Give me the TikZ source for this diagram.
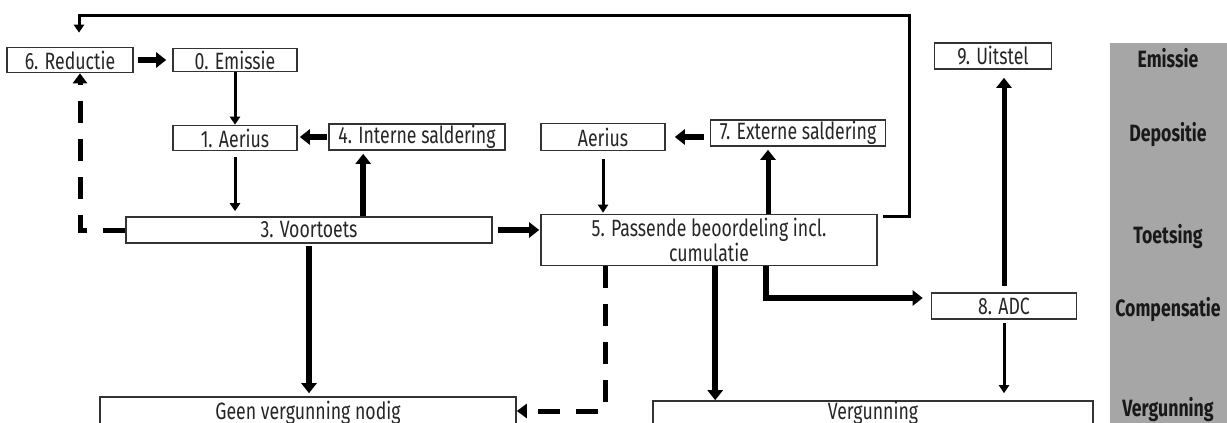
\documentclass[tikz,border=0pt]{standalone}
\usepackage{fontspec}
\setmainfont[FakeStretch=0.75]{Fira Sans}
\usepackage{xcolor}
\usepackage{tikz}
\usetikzlibrary{arrows.meta, positioning}

\begin{document}
\begin{tikzpicture}[x=0.5pt, y=-0.5pt, >={Triangle[length=4pt,width=5pt]},
    box/.style={draw=black!80, line width=0.8pt, rectangle, fill=white, inner sep=0pt, text=black!85, font=\fontsize{11.8}{12.5}\selectfont},
    flow/.style={->, line width=1.5pt},
    bigflow/.style={-{Triangle[length=5pt,width=7.5pt]}, line width=3pt},
    dashflow/.style={-{Triangle[length=5pt,width=7pt]}, line width=2.5pt, dash pattern=on 11pt off 8pt},
    lane/.style={font=\bfseries\fontsize{11.8}{12.5}\selectfont, text=black!90}]
    \useasboundingbox (0,0) rectangle (1227,423);
    \fill[black!35] (1110,43) rectangle (1227,440);

    \node [box, minimum width=63pt, minimum height=12.5pt] (red) at (70,60) {6. Reductie};
    \node [box, minimum width=62pt, minimum height=11.5pt] (emi) at (235,60) {0. Emissie};
    \node [box, minimum width=62pt, minimum height=12.5pt] (aerA) at (235,138) {1. Aerius};
    \node [box, minimum width=88pt, minimum height=13pt] (intern) at (417,137) {4. Interne saldering};
    \node [box, minimum width=183pt, minimum height=13pt] (voor) at (309,230) {3. Voortoets};
    \node [box, minimum width=62pt, minimum height=13.5pt] (aerB) at (603,137) {Aerius};
    \node [box, minimum width=87.5pt, minimum height=13pt] (extern) at (798,133) {7. Externe saldering};
    \node [box, minimum width=168pt, minimum height=25.5pt, align=center] (pass) at (709,240) {5. Passende beoordeling incl.\\cumulatie};
    \node [box, minimum width=58.5pt, minimum height=13pt] (uit) at (993,56) {9. Uitstel};
    \node [box, minimum width=72.5pt, minimum height=13pt] (adc) at (1004,306) {8. ADC};
    \node [box, minimum width=208pt, minimum height=16pt] (geen) at (308,413) {Geen vergunning nodig};
    \node [box, minimum width=220pt, minimum height=12pt] (verg) at (873,413) {Vergunning};

    \node [lane] (lEmi) at (1168,58) {Emissie};
    \node [lane] (lDep) at (1168,135) {Depositie};
    \node [lane] (lToe) at (1168,237) {Toetsing};
    \node [lane] (lCom) at (1168,310) {Compensatie};
    \node [lane] (lVer) at (1168,410) {Vergunning};

    \coordinate (c34) at ([xshift=17.5pt]intern.south west);
    \coordinate (c57) at ([xshift=-15pt]extern.south);
    \coordinate (cGeen) at ([xshift=32.5pt]pass.south west);
    \coordinate (cVerg) at ([xshift=87.5pt]pass.south west);
    \coordinate (cAdc) at ([xshift=113pt]pass.south west);
    \coordinate (fbTop) at (909,15);

    \draw [bigflow, shorten <=2pt, shorten >=3pt] (red) -- (emi);
    \draw [flow] (emi) -- (aerA);
    \draw [bigflow, shorten <=0.5pt, shorten >=1pt] (intern.west) -- (intern.west -| aerA.east);
    \draw [flow, shorten <=3pt, shorten >=2.5pt] (aerA) -- (aerA |- voor.north);
    \draw [bigflow, shorten >=1.5pt] (c34 |- voor.north) -- (c34);
    \draw [dashflow] (voor.west) -| ([xshift=5pt]red.south);
    \draw [bigflow, shorten <=2.5pt, shorten >=0.5pt] (voor.east) -- (voor.east -| pass.west);
    \draw [flow, shorten <=4pt, shorten >=0.5pt] (aerB) -- (aerB |- pass.north);
    \draw [bigflow, line width=2.5pt, shorten >=1.5pt] (c57 |- pass.north) -- (c57);
    \draw [bigflow, shorten <=3pt, shorten >=4.5pt] (extern.west |- aerB) -- (aerB);
    \draw [flow, shorten >=7pt] ([xshift=2.5pt,yshift=-1.5pt]pass.north east) -| (fbTop) -| ([xshift=4.5pt]red.north);
    \draw [bigflow, shorten <=1pt, shorten >=1.5pt] (voor) -- (voor |- geen.north);
    \draw [dashflow] (cGeen) |- ([yshift=1pt]geen.east);
    \draw [bigflow] (cVerg) -- (cVerg |- verg.north);
    \draw [bigflow, shorten >=4pt] (cAdc) |- ([yshift=4pt]adc.west);
    \draw [bigflow, line width=2.5pt, shorten <=3pt, shorten >=4pt] (adc.north) -- (adc.north |- uit.south);
    \draw [flow, shorten <=1.5pt, shorten >=3.5pt] (adc) -- (adc |- verg.north);
\end{tikzpicture}
\end{document}
